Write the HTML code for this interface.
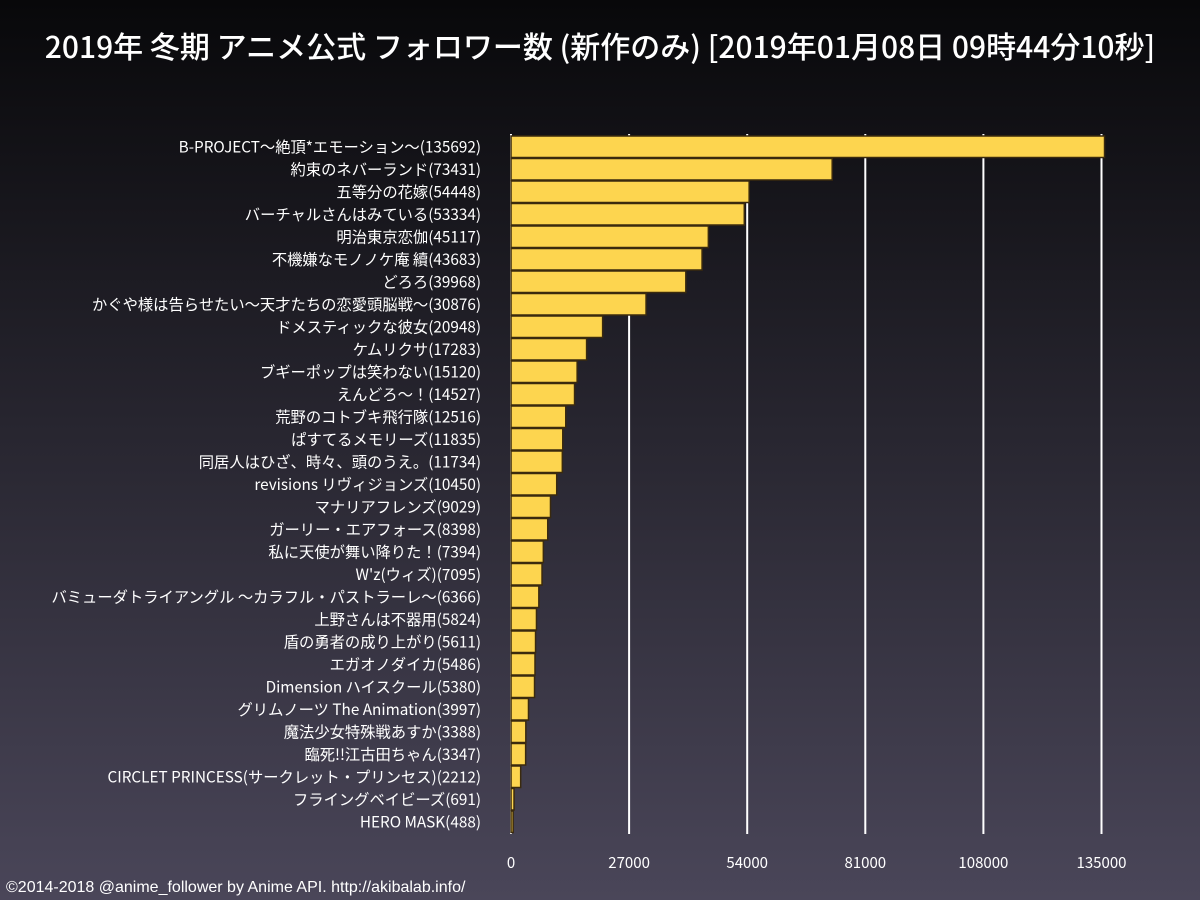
<!DOCTYPE html>
<html><head><meta charset="utf-8"><style>
body{margin:0;width:1200px;height:900px;overflow:hidden;background:linear-gradient(#08080a,#4a4659);font-family:"Noto Sans CJK JP","Liberation Sans",sans-serif;}
svg{display:block}
</style></head><body>
<svg id="chart" width="1200" height="900">
<text x="600" y="58" fill="#fff" font-size="30" font-weight="500" text-anchor="middle" font-family="Noto Sans CJK JP, Liberation Sans, sans-serif">2019年 冬期 アニメ公式 フォロワー数 (新作のみ) [2019年01月08日 09時44分10秒]</text>
<text x="6" y="892" fill="#fff" font-size="16" font-family="Liberation Sans, sans-serif">©2014-2018 @anime_follower by Anime API. http://akibalab.info/</text>
<g id="grid"></g><g id="bars"></g><g id="labels"></g><g id="ticks"></g>
</svg>
<script>
const categories=["B-PROJECT〜絶頂*エモーション〜","約束のネバーランド","五等分の花嫁","バーチャルさんはみている","明治東京恋伽","不機嫌なモノノケ庵 續","どろろ","かぐや様は告らせたい〜天才たちの恋愛頭脳戦〜","ドメスティックな彼女","ケムリクサ","ブギーポップは笑わない","えんどろ〜！","荒野のコトブキ飛行隊","ぱすてるメモリーズ","同居人はひざ、時々、頭のうえ。","revisions リヴィジョンズ","マナリアフレンズ","ガーリー・エアフォース","私に天使が舞い降りた！","W'z(ウィズ)","バミューダトライアングル 〜カラフル・パストラーレ〜","上野さんは不器用","盾の勇者の成り上がり","エガオノダイカ","Dimension ハイスクール","グリムノーツ The Animation","魔法少女特殊戦あすか","臨死!!江古田ちゃん","CIRCLET PRINCESS(サークレット・プリンセス)","フライングベイビーズ","HERO MASK"];
const values=[135692,73431,54448,53334,45117,43683,39968,30876,20948,17283,15120,14527,12516,11835,11734,10450,9029,8398,7394,7095,6366,5824,5611,5486,5380,3997,3388,3347,2212,691,488];
const tickValues=[0,27000,54000,81000,108000,135000];
const NS="http://www.w3.org/2000/svg";
const x0=511,x1=1105,xmax=135800,yTop=136,rowH=22.5;
const xs=v=>x0+(v/xmax)*(x1-x0);
const ys=i=>yTop+i*rowH;
function mk(t,a,p){const e=document.createElementNS(NS,t);for(const k in a)e.setAttribute(k,a[k]);p.appendChild(e);return e;}
const grid=document.getElementById('grid'),bars=document.getElementById('bars'),labels=document.getElementById('labels'),ticks=document.getElementById('ticks');
tickValues.forEach(v=>{
 const l=mk('line',{x1:xs(v),x2:xs(v),y1:134,y2:834,stroke:'#fff','stroke-width':2},grid);
 
 
 const t=mk('text',{x:xs(v),y:868,fill:'#fff','font-size':15,'text-anchor':'middle'},ticks);
 t.textContent=v;
 
 
});
categories.forEach((c,i)=>{
 const r=mk('rect',{x:x0,y:ys(i),width:Math.max(xs(values[i])-x0,1),height:rowH-1,fill:'#fdd54f',stroke:'#3a2a0e','stroke-width':1.5},bars);
 
 
 const t=mk('text',{x:481,y:ys(i)+rowH/2+5,fill:'#fff','font-size':15.3,'text-anchor':'end'},labels);
 t.textContent=c+'('+values[i]+')';
 
 
});
</script>
</body></html>
